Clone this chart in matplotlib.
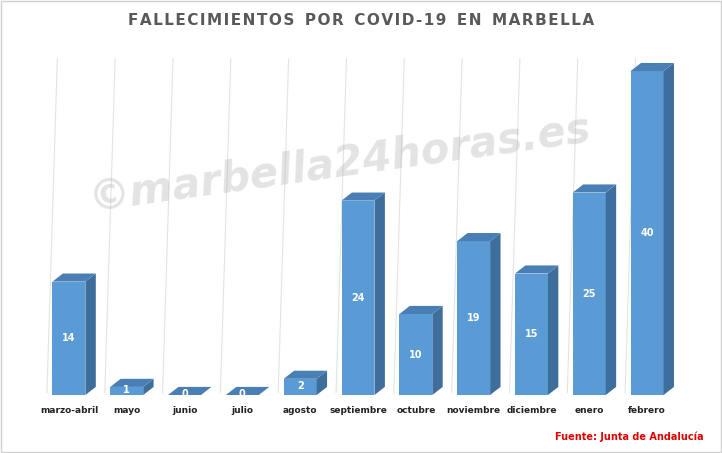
import matplotlib
matplotlib.use("Agg")
import matplotlib.pyplot as plt
from matplotlib.patches import Polygon, Rectangle

categories = ["marzo-abril", "mayo", "junio", "julio", "agosto", "septiembre",
              "octubre", "noviembre", "diciembre", "enero", "febrero"]
values = [14, 1, 0, 0, 2, 24, 10, 19, 15, 25, 40]

fig = plt.figure(figsize=(7.22, 4.53), dpi=100)
fig.patches.append(Rectangle((0.002, 0.002), 0.996, 0.996, transform=fig.transFigure,
                             fill=False, ec="#d0d0d0", lw=1))
ax = fig.add_axes([40/722, 58/453, 636/722, 345/453])
ax.set_xlim(-0.5, len(categories) - 0.5)
ax.set_ylim(0, 42.6)
ax.axis("off")

w = 0.57
dx, dy = 0.18, 1.0
front, side, top = "#5B9BD5", "#3E6E9C", "#4A7FB5"

for i in range(len(categories) + 1):
    xg = i - 0.5 + 0.12
    ax.plot([xg, xg + dx], [dy * 0.3, 41.5], color="#e3e3e3", lw=0.8, zorder=0)
ax.plot([-0.38, len(categories) - 0.3], [0, 0], color="#e3e3e3", lw=0.8, zorder=0)

for i, (c, v) in enumerate(zip(categories, values)):
    x0 = i - w / 2
    ax.bar(i, v, width=w, color=front, zorder=2)
    ax.add_patch(Polygon([[x0 + w, 0], [x0 + w + dx, dy], [x0 + w + dx, v + dy], [x0 + w, v]],
                         closed=True, fc=side, ec="none", zorder=2))
    ax.add_patch(Polygon([[x0, v], [x0 + w, v], [x0 + w + dx, v + dy], [x0 + dx, v + dy]],
                         closed=True, fc=top, ec="none", zorder=2))
    ax.text(i, v / 2 if v > 2 else v / 2 + 0.1, str(v), color="white", fontsize=7,
            fontweight="bold", ha="center", va="center", zorder=3)
    ax.text(i, -1.4, c, fontsize=6.5, fontweight="bold", ha="center", va="top", color="#222222")

fig.text(0.5, 0.955, "F A L L E C I M I E N T O S   P O R   C O V I D - 1 9   E N   M A R B E L L A".replace(" ", "\u200a").replace("\u200a\u200a\u200a", "  "),
         ha="center", va="center", fontsize=11, fontweight="bold", color="#595959")
fig.text(0.47, 0.64, "©marbella24horas.es", ha="center", va="center", fontsize=30,
         fontweight="bold", color="#b0b0b0", alpha=0.35, rotation=8, style="italic", zorder=5)
fig.text(0.975, 0.035, "Fuente: Junta de Andalucía", ha="right", va="center",
         fontsize=7, fontweight="bold", color="#e00000")
fig.savefig("out.png", dpi=100)
